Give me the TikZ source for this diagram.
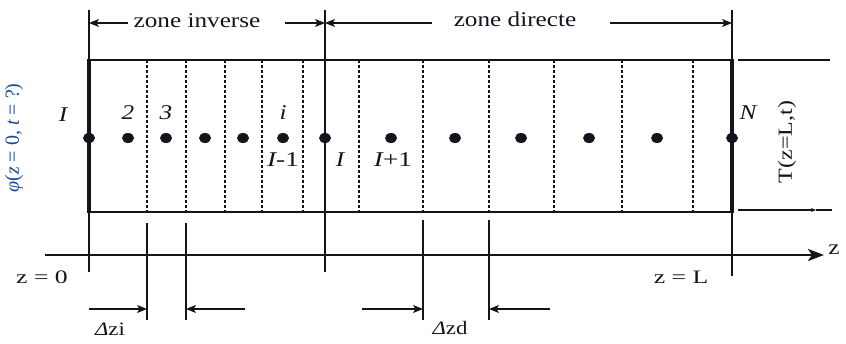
\documentclass[tikz,border=0pt]{standalone}
\usepackage{fontspec}
\setmainfont{Liberation Serif}
\usetikzlibrary{arrows.meta,shapes.geometric}
\definecolor{labelblue}{RGB}{25,75,160}
\definecolor{ink}{RGB}{20,20,28}
% wide text: the lettering is set slightly stretched
\newcommand{\wtxt}[2][1.2]{\scalebox{#1}[1]{#2}}
\newcommand{\fs}[1]{\fontsize{#1}{#1}\selectfont}
\tikzset{
  frame/.style={line width=2.4pt, ink},
  thickedge/.style={line width=3.4pt, ink},
  guide/.style={line width=1.2pt, ink},
  cellsep/.style={line width=1.2pt, ink, dash pattern=on 3pt off 2pt},
  nodept/.style={ellipse, fill=ink, minimum width=12pt, minimum height=10pt, inner sep=0pt},
  dimarrow/.style={line width=1.2pt, ink, -{Stealth[length=10pt,width=8pt,inset=2.5pt]}},
  axis/.style={line width=2.4pt, ink, -{Stealth[length=16pt,width=12pt,inset=4pt]}},
  lbl/.style={inner sep=0pt, text=ink},
}
\begin{document}
\begin{tikzpicture}[x=1pt, y=-1pt]
\useasboundingbox (0,0) rectangle (846,343);

% reference coordinates of the column
\coordinate (TL) at (89,60);
\coordinate (TR) at (732,60);
\coordinate (BL) at (89,212);
\coordinate (BR) at (732,212);

% cell separators (dashed)
\foreach \x in {147,186,225,262,303,359,423,489,554,622,693}
  \draw[cellsep] (\x,60) -- (\x,212);

% long vertical guides
\draw[guide] (89,10) -- (89,272);
\draw[guide] (325,10) -- (325,272);
\draw[guide] (732,10) -- (732,276);

% the column
\draw[frame] (TL) -- (TR);
\draw[frame] (BL) -- (BR);
\draw[thickedge] (89,59) -- (89,213);
\draw[thickedge] (732,59) -- (732,213);

% grid nodes
\foreach \x [count=\k] in {89,128,166,205,243,283,325,391,455,521,589,657,732}
  \node[nodept] (p\k) at (\x,138) {};

% node labels
\node[lbl] (l1) at (63,115) {\fs{21}\wtxt{\itshape I}};
\node[lbl] (l2) at (128,113) {\fs{21}\wtxt{\itshape 2}};
\node[lbl] (l3) at (166,113) {\fs{21}\wtxt{\itshape 3}};
\node[lbl] (li) at (283,113) {\fs{21}\wtxt{\itshape i}};
\node[lbl] (lN) at (748,113) {\fs{21}\wtxt{\itshape N}};
\node[lbl] (lIm) at (283,160) {\fs{21}\wtxt[1.3]{{\itshape I}-1}};
\node[lbl] (lI) at (340,160) {\fs{21}\wtxt{\itshape I}};
\node[lbl] (lIp) at (393,160) {\fs{21}\wtxt[1.3]{{\itshape I}+1}};

% zone headings
\node[lbl] (zi) at (197,21) {\fs{21}\wtxt{zone inverse}};
\node[lbl] (zd) at (515,19) {\fs{21}\wtxt{zone directe}};
\coordinate (zL) at (89,23);
\coordinate (zM) at (325,23);
\coordinate (zR) at (732,23);
\draw[dimarrow] (128,23) -- (zL);
\draw[dimarrow] (285,23) -- (zM);
\draw[dimarrow] (432,23) -- (zM);
\draw[dimarrow] (610,23) -- (zR);

% boundary conditions
\node[lbl, text=labelblue, rotate=90] (phi) at (14,138)
  {\fs{20}{\itshape φ}({\itshape z} = 0, {\itshape t} = ?)};
\node[lbl, rotate=90] (T) at (787,142) {\fs{20}\wtxt[1.2]{T(z=L,t)}};
\coordinate (r1a) at (738,60);
\coordinate (r1b) at (830,60);
\coordinate (r2a) at (738,210);
\coordinate (r2m) at (816,210);
\coordinate (r2b) at (832,210);
\draw[guide] (r1a) -- (r1b);
\draw[guide, -{Stealth[length=5pt,width=4pt]}] (r2a) -- (r2m);
\draw[guide] (r2m) -- (r2b);

% z axis
\coordinate (ax0) at (45,255);
\coordinate (ax1) at (824,255);
\draw[axis] (ax0) -- (ax1);
\node[lbl] (zlab) at (834,250) {\fs{21}\wtxt{z}};
\node[lbl] (z0) at (42,277) {\fs{19}\wtxt[1.35]{z = 0}};
\node[lbl] (zLl) at (681,277) {\fs{19}\wtxt[1.35]{z = L}};

% cell widths
\foreach \x in {147,186} \draw[guide] (\x,223) -- (\x,320);
\foreach \x in {423,489} \draw[guide] (\x,220) -- (\x,320);
\coordinate (di1) at (147,309);
\coordinate (di2) at (186,309);
\coordinate (dd1) at (423,309);
\coordinate (dd2) at (489,309);
\draw[dimarrow] (89,309) -- (di1);
\draw[dimarrow] (245,309) -- (di2);
\draw[dimarrow] (362,309) -- (dd1);
\draw[dimarrow] (550,309) -- (dd2);
\node[lbl] (dzi) at (110,329) {\fs{19}\wtxt{{\itshape Δ}zi}};
\node[lbl] (dzd) at (450,328) {\fs{19}\wtxt{{\itshape Δ}zd}};
\end{tikzpicture}
\end{document}
